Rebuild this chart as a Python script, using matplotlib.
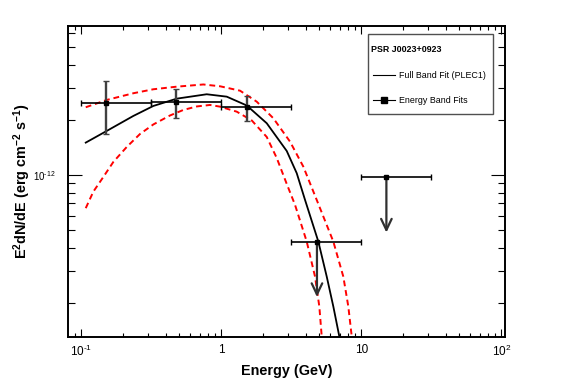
import numpy as np
import matplotlib
matplotlib.use('Agg')
import matplotlib.pyplot as plt
from matplotlib.ticker import LogLocator, NullFormatter
from matplotlib.lines import Line2D
from matplotlib.patches import Rectangle

plt.rcParams['font.family'] = ['Liberation Sans', 'DejaVu Sans']
plt.rcParams['mathtext.fontset'] = 'custom'
plt.rcParams['mathtext.rm'] = 'Liberation Sans'
plt.rcParams['mathtext.it'] = 'Liberation Sans:italic'
plt.rcParams['mathtext.bf'] = 'Liberation Sans:bold'

# flux values in units of 1e-12 erg cm^-2 s^-1
# full band fit (PLEC1)
fit_E = [0.1075, 0.1518, 0.2351, 0.3268, 0.480, 0.786, 1.093, 1.518, 2.110,
         2.932, 3.456, 3.962, 4.931, 5.661, 6.31, 6.965]
fit_F = [1.502, 1.740, 2.101, 2.383, 2.612, 2.761, 2.679, 2.398, 1.917,
         1.352, 1.022, 0.730, 0.432, 0.278, 0.1907, 0.1307]

# 1 sigma band, upper edge
up_E = [0.1075, 0.1518, 0.2351, 0.3268, 0.480, 0.7437, 0.979, 1.360, 1.790,
        2.352, 3.096, 3.852, 4.801, 6.31, 7.435, 8.074, 8.54]
up_F = [2.344, 2.570, 2.796, 2.940, 3.038, 3.123, 3.053, 2.888, 2.515,
        2.041, 1.520, 1.110, 0.730, 0.432, 0.278, 0.1907, 0.1307]

# 1 sigma band, lower edge
lo_E = [0.1075, 0.1218, 0.1436, 0.1693, 0.2110, 0.2626, 0.3268, 0.430, 0.5353,
        0.6673, 0.8305, 0.979, 1.288, 1.649, 2.110, 2.487, 2.932, 3.360,
        4.074, 4.670, 5.012, 5.213]
lo_F = [0.658, 0.810, 0.975, 1.178, 1.422, 1.675, 1.888, 2.114, 2.266,
        2.368, 2.413, 2.362, 2.218, 1.986, 1.613, 1.238, 0.893, 0.686,
        0.432, 0.278, 0.1907, 0.1307]

# energy band fits
band_E = [0.151, 0.477, 1.52]
band_Elo = [0.1, 0.316, 1.0]
band_Ehi = [0.316, 1.0, 3.16]
band_F = [2.46, 2.50, 2.34]
band_Flo = [1.67, 2.06, 1.97]
band_Fhi = [3.28, 2.94, 2.70]

# upper limits
ul_E = [4.82, 15.1]
ul_Elo = [3.16, 10.0]
ul_Ehi = [10.0, 31.6]
ul_F = [0.432, 0.976]
ul_arrow = [0.215, 0.484]

sc = 1e-12
W, H = 567, 384

def fx(x):
    return x / W

def fy(y):
    return 1 - y / H

fig = plt.figure(figsize=(5.67, 3.84), dpi=100)
ax = fig.add_axes([fx(68), fy(337), (504.7 - 68) / W, (337 - 26) / H])

ax.plot(fit_E, np.array(fit_F) * sc, color='black', lw=1.3, zorder=3)
ax.plot(up_E, np.array(up_F) * sc, color='red', lw=1.4, ls=(0, (3, 2)), zorder=3)
ax.plot(lo_E, np.array(lo_F) * sc, color='red', lw=1.4, ls=(0, (3, 2)), zorder=3)

bE = np.array(band_E)
bF = np.array(band_F) * sc
ax.errorbar(bE, bF, xerr=[bE - np.array(band_Elo), np.array(band_Ehi) - bE],
            fmt='none', ecolor='black', elinewidth=1.2, capsize=2, capthick=1.0, zorder=4)
ax.errorbar(bE, bF, yerr=[bF - np.array(band_Flo) * sc, np.array(band_Fhi) * sc - bF],
            fmt='none', ecolor='#404040', elinewidth=1.7, capsize=2, capthick=1.0, zorder=4)
ax.plot(bE, bF, 's', color='black', ms=3, zorder=5)

uE = np.array(ul_E)
uF = np.array(ul_F) * sc
ax.errorbar(uE, uF, xerr=[uE - np.array(ul_Elo), np.array(ul_Ehi) - uE],
            fmt='none', ecolor='black', elinewidth=1.2, capsize=2, capthick=1.0, zorder=4)
ax.plot(uE, uF, 's', color='black', ms=3, zorder=5)
for e, f0, f1 in zip(ul_E, ul_F, ul_arrow):
    ax.annotate('', xy=(e, f1 * sc), xytext=(e, f0 * sc),
                arrowprops=dict(arrowstyle='->,head_length=0.8,head_width=0.38',
                                mutation_scale=10, lw=1.6, color='#303030',
                                shrinkA=0, shrinkB=0), zorder=4)

ax.set_xscale('log')
ax.set_yscale('log')
ax.set_xlim(0.0803, 105.7)
ax.set_ylim(1.30e-13, 6.52e-12)

ax.set_xticks([0.1, 1, 10, 100], [r'$10^{\text{-}1}$', '1', '10', r'$10^{2}$'])
ax.xaxis.set_minor_locator(LogLocator(base=10, subs=np.arange(2, 10), numticks=20))
ax.xaxis.set_minor_formatter(NullFormatter())
ax.set_yticks([1e-12], [r'$10^{\text{-}12}$'])
ax.yaxis.set_minor_locator(LogLocator(base=10, subs=np.arange(2, 10), numticks=20))
ax.yaxis.set_minor_formatter(NullFormatter())

ax.tick_params(which='both', direction='in', top=True, right=True, width=0.8)
ax.tick_params(axis='x', which='major', length=5.8, labelsize=8.5, pad=5)
ax.tick_params(axis='x', which='minor', length=2.9)
ax.tick_params(axis='y', which='major', length=10, labelsize=7, pad=9)
ax.tick_params(axis='y', which='minor', length=5)
for s in ax.spines.values():
    s.set_linewidth(1.4)

ax.set_xlabel('Energy (GeV)', fontsize=10.4, fontweight='bold')
ax.xaxis.set_label_coords(0.5, -0.108)
ax.xaxis.label.set_va('center')
ax.set_ylabel(r'$\mathbf{E^{2}dN/dE\ (erg\ cm^{-2}\ s^{-1})}$', fontsize=10.4)
ax.yaxis.set_label_coords(-0.105, 0.5016)
ax.yaxis.label.set_va('center')

# legend box drawn by hand, ROOT style
fig.add_artist(Rectangle((fx(368.3), fy(114.3)), (493.3 - 368.3) / W, (114.3 - 34) / H,
                         transform=fig.transFigure, facecolor='white',
                         edgecolor='#505050', lw=1.0, zorder=10))
fig.text(fx(371), fy(49), 'PSR J0023+0923', fontsize=6.4, fontweight='bold',
         va='center', ha='left', zorder=11)
fig.add_artist(Line2D([fx(373.3), fx(395)], [fy(75), fy(75)], color='black', lw=0.8,
                      transform=fig.transFigure, zorder=11))
fig.text(fx(399), fy(75), 'Full Band Fit (PLEC1)', fontsize=6.4, va='center', ha='left', zorder=11)
fig.add_artist(Line2D([fx(373.3), fx(395)], [fy(100.3), fy(100.3)], color='black', lw=0.8,
                      transform=fig.transFigure, zorder=11))
fig.add_artist(Line2D([fx(384)], [fy(100.3)], color='black', marker='s', ms=4,
                      transform=fig.transFigure, zorder=12))
fig.text(fx(399), fy(100.3), 'Energy Band Fits', fontsize=6.4, va='center', ha='left', zorder=11)

fig.savefig('out.png', dpi=100)
